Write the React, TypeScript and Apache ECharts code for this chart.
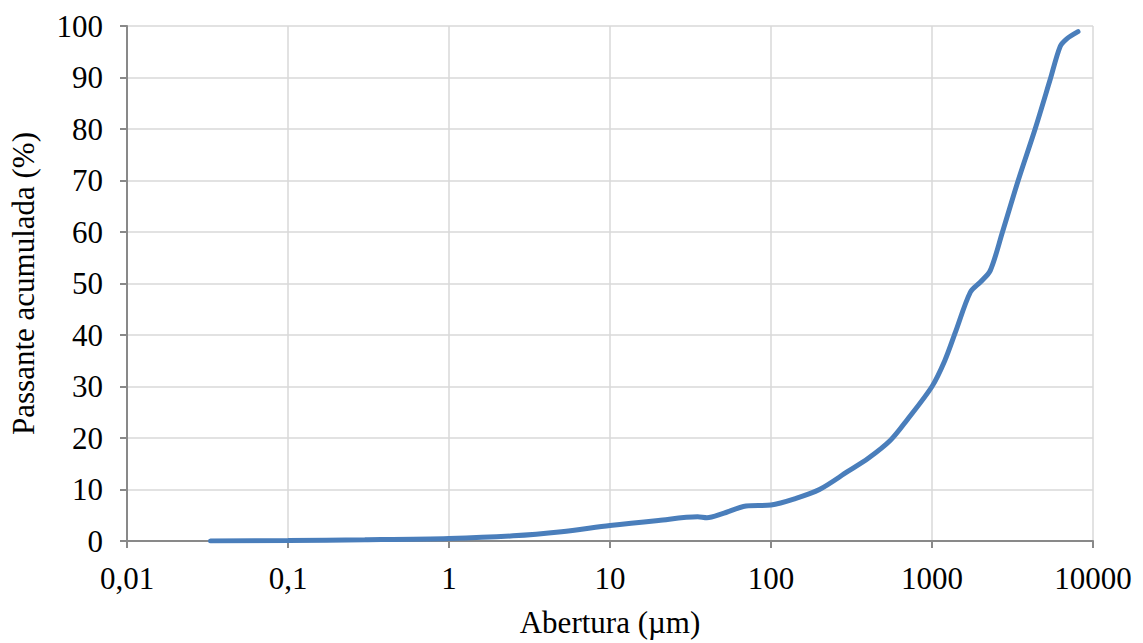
import React, { useEffect, useRef } from "react";
import * as echarts from "echarts";

const aperture = [0.033, 0.1, 0.3, 1, 2.5, 5, 10, 20, 35, 40, 50, 70, 100, 140, 200, 300, 400, 550, 700, 1000, 1200, 1400, 1730, 2000, 2300, 2740, 3430, 4370, 5420, 6250, 6870, 8070];
const passing = [0, 0.1, 0.25, 0.5, 1.0, 1.8, 3.0, 4.0, 4.7, 4.5, 5.3, 6.8, 7.0, 8.2, 10.0, 13.5, 16.0, 19.5, 23.5, 30.0, 35.0, 40.6, 48.3, 50.3, 52.5, 60.0, 70.0, 80.0, 89.6, 96.0, 97.5, 98.9];
const xTicks = [0.01, 0.1, 1, 10, 100, 1000, 10000];
const yMax = 100;
const yStep = 10;

const FONT = "'Liberation Serif', 'Times New Roman', serif";

function fmtX(v: number): string {
  const e = Math.round(Math.log10(v));
  if (e < 0) return "0," + "0".repeat(-e - 1) + "1";
  return String(Math.pow(10, e));
}

export default function App() {
  const ref = useRef<HTMLDivElement>(null);
  useEffect(() => {
    if (!ref.current) return;
    const chart = echarts.init(ref.current, null, { renderer: "svg" });
    chart.setOption({
      animation: false,
      grid: { left: 124, right: 50, top: 26, bottom: 100, containLabel: false },
      xAxis: {
        type: "log",
        logBase: 10,
        min: xTicks[0],
        max: xTicks[xTicks.length - 1],
        name: "Abertura (µm)",
        nameLocation: "middle",
        nameGap: 66,
        nameTextStyle: { fontFamily: FONT, fontSize: 31, color: "#000" },
        axisLine: { show: true, lineStyle: { color: "#898989", width: 2 } },
        axisTick: { show: true, length: 7, lineStyle: { color: "#898989", width: 2 } },
        minorTick: { show: false },
        axisLabel: { formatter: fmtX, fontFamily: FONT, fontSize: 31, color: "#000", margin: 22 },
        splitLine: { show: true, lineStyle: { color: "#d9d9d9", width: 1.5 } },
      },
      yAxis: {
        type: "value",
        min: 0,
        max: yMax,
        interval: yStep,
        name: "Passante acumulada (%)",
        nameLocation: "middle",
        nameGap: 88,
        nameTextStyle: { fontFamily: FONT, fontSize: 31, color: "#000" },
        axisLine: { show: true, lineStyle: { color: "#898989", width: 2 } },
        axisTick: { show: true, length: 7, lineStyle: { color: "#898989", width: 2 } },
        axisLabel: { fontFamily: FONT, fontSize: 31, color: "#000", margin: 24 },
        splitLine: { show: true, lineStyle: { color: "#d9d9d9", width: 1.5 } },
      },
      series: [
        {
          type: "line",
          data: aperture.map((a, i) => [a, passing[i]]),
          smooth: 0.3,
          symbol: "none",
          lineStyle: { color: "#4a7ebb", width: 5, cap: "round" },
        },
      ],
    });
    return () => chart.dispose();
  }, []);
  return <div ref={ref} style={{ width: 1143, height: 643, position: "absolute", left: 0, top: 0 }} />;
}
